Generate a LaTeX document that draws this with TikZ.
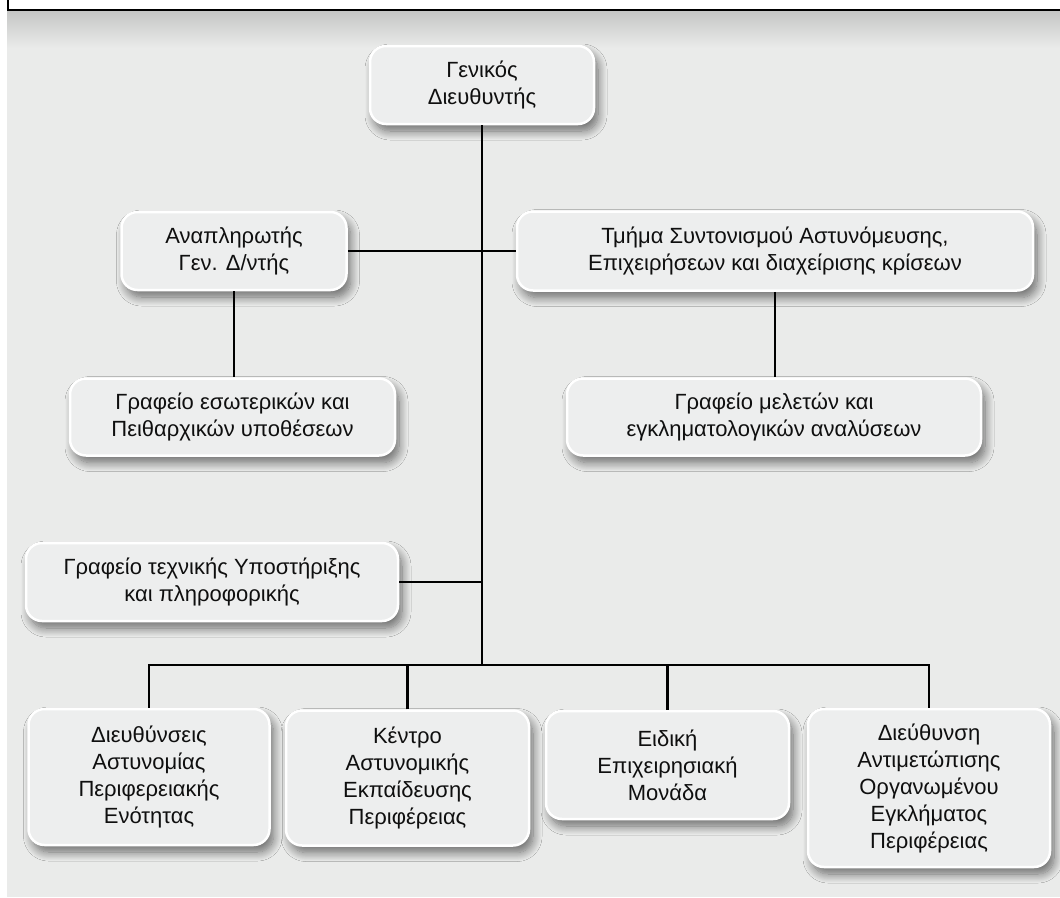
\documentclass[tikz,border=0pt]{standalone}
\usepackage{fontspec}
\setmainfont{Liberation Sans}
\usetikzlibrary{shadows.blur,calc}
\definecolor{bg}{RGB}{234,235,234}
\definecolor{boxfill}{RGB}{237,238,238}
\definecolor{ink}{RGB}{15,15,15}
\definecolor{topshade}{RGB}{196,197,196}
\tikzset{
  org/.style={rounded corners=16pt, draw=white, line width=2.5pt, fill=boxfill,
    align=center, inner sep=0pt, text=ink,
    font=\fontsize{22}{27}\selectfont,
    blur shadow={shadow xshift=4pt, shadow yshift=-7pt, shadow blur radius=9pt, shadow blur steps=12, shadow opacity=55}},
  link/.style={draw=black, line width=2.3pt}
}
\begin{document}
\begin{tikzpicture}[x=1pt,y=-1pt]
\useasboundingbox (0,0) rectangle (1060,897);
% background
\fill[bg] (7,10) rectangle (1060,897);
\shade[top color=topshade, bottom color=bg] (7,10) rectangle (1060,48);
\draw[fill=white, line width=1.2pt] (8,-5) rectangle (1075,10);

% nodes
\node[org, minimum width=224pt, minimum height=78pt] (gen) at (482,85) {Γενικός\\Διευθυντής};
\node[org, minimum width=225pt, minimum height=78pt] (dep) at (234,251) {Αναπληρωτής\\Γεν. Δ/ντής};
\node[org, minimum width=516pt, minimum height=79pt] (tmima) at (775,251) {Τμήμα Συντονισμού Αστυνόμευσης,\\Επιχειρήσεων και διαχείρισης κρίσεων};
\node[org, minimum width=325pt, minimum height=77pt] (esot) at (232.5,417) {Γραφείο εσωτερικών και\\Πειθαρχικών υποθέσεων};
\node[org, minimum width=414pt, minimum height=77pt] (melet) at (774,417) {Γραφείο μελετών και\\εγκληματολογικών αναλύσεων};
\node[org, minimum width=372pt, minimum height=78pt] (tech) at (212,582) {Γραφείο τεχνικής Υποστήριξης\\και πληροφορικής};
\node[org, minimum width=241pt, minimum height=136pt] (d1) at (149,777) {Διευθύνσεις\\Αστυνομίας\\Περιφερειακής\\Ενότητας};
\node[org, minimum width=243pt, minimum height=135pt] (d2) at (407.5,778) {Κέντρο\\Αστυνομικής\\Εκπαίδευσης\\Περιφέρειας};
\node[org, minimum width=243pt, minimum height=108pt] (d3) at (667.5,765) {Ειδική\\Επιχειρησιακή\\Μονάδα};
\node[org, minimum width=242pt, minimum height=158pt] (d4) at (929,788) {Διεύθυνση\\Αντιμετώπισης\\Οργανωμένου\\Εγκλήματος\\Περιφέρειας};

\coordinate (j) at (482,665);

% connectors
\draw[link] (gen.south) -- (j);
\draw[link] (dep.east) -- (tmima.west);
\draw[link] (dep.south) -- (dep.south |- esot.north);
\draw[link] (tmima.south) -- (tmima.south |- melet.north);
\draw[link] (tech.east) -- (tech.east -| j);
\draw[link] (d1.north) |- (j) -| (d4.north);
\draw[link] (d2.north) -- (d2.north |- j);
\draw[link] (d3.north) -- (d3.north |- j);
\end{tikzpicture}
\end{document}
